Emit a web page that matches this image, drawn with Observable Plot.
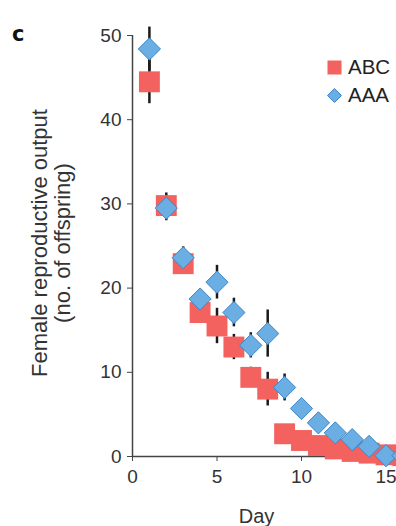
<!DOCTYPE html>
<html>
<head>
<meta charset="utf-8">
<script src="https://cdn.jsdelivr.net/npm/d3@7"></script>
<script src="https://cdn.jsdelivr.net/npm/@observablehq/plot@0.6"></script>
<style>
  html, body { margin: 0; padding: 0; background: #fff; }
  #wrap { position: relative; width: 396px; height: 526px; overflow: hidden; font-family: "Liberation Sans", Arial, Helvetica, sans-serif; }
  #chart { position: absolute; left: 0; top: 0; width: 500px; height: 526px; }
  #chart svg { max-width: none !important; width: 500px; height: 526px; }
  #panel { position: absolute; left: 12px; top: 22px; font-family: "DejaVu Sans", sans-serif; font-weight: bold; font-size: 21px; color: #111; }
  .leg { position: absolute; left: 326px; font-size: 20.5px; color: #222; display: flex; align-items: center; white-space: nowrap; }
  .leg svg { margin-right: 5px; }
</style>
</head>
<body>
<div id="wrap">
  <div id="chart"></div>
  <div id="panel">c</div>
  <div class="leg" style="top:55px;"><svg width="17" height="17"><rect x="1.5" y="1.5" width="14" height="14" fill="#f4625f"/></svg>ABC</div>
  <div class="leg" style="top:83px;"><svg width="17" height="17"><path d="M8.5 1.5 L15.5 8.5 L8.5 15.5 L1.5 8.5 Z" fill="#6aaee3" stroke="#3f86c4" stroke-width="1"/></svg>AAA</div>
</div>
<script>
const days    = [1, 2, 3, 4, 5, 6, 7, 8, 9, 10, 11, 12, 13, 14, 15, 16];
const abcMean = [44.5, 29.8, 22.9, 17.1, 15.5, 13.0, 9.4, 8.0, 2.7, 1.9, 1.3, 0.9, 0.6, 0.4, 0.2, 0.1];
const abcErr  = [2.6, 1.5, 1.0, 1.2, 2.1, 1.5, 1.2, 2.0, 0.6, 0.5, 0.4, 0.3, 0.3, 0.2, 0.1, 0.1];
const aaaMean = [48.4, 29.5, 23.6, 18.7, 20.7, 17.1, 13.2, 14.6, 8.2, 5.7, 4.0, 2.8, 2.0, 1.2, 0.1, 0.1];
const aaaErr  = [2.6, 1.5, 1.3, 1.0, 2.0, 1.7, 1.5, 2.8, 1.6, 0.8, 0.6, 0.5, 0.4, 0.3, 0.2, 0.1];
const xTicks  = [0, 5, 10, 15, 20];
const yTicks  = [0, 10, 20, 30, 40, 50];
const yLabel  = "Female reproductive output\n(no. of offspring)";
const xLabel  = "Day";

const abc = days.map((d, i) => ({day: d, v: abcMean[i], e: abcErr[i]}));
const aaa = days.map((d, i) => ({day: d, v: aaaMean[i], e: aaaErr[i]}));

const font = "Liberation Sans, Arial, Helvetica, sans-serif";
const plot = Plot.plot({
  width: 500,
  height: 526,
  marginLeft: 132,
  marginRight: 30,
  marginTop: 35,
  marginBottom: 70,
  style: {fontFamily: font, fontSize: "19px", color: "#333", background: "transparent", maxWidth: "none"},
  x: {domain: [0, 20], ticks: xTicks, label: null},
  y: {domain: [0, 50], ticks: yTicks, label: null},
  marks: [
    Plot.axisX({ticks: xTicks, tickSize: 5, tickPadding: 8, fontSize: 19, stroke: "#444", fill: "#333", label: null}),
    Plot.axisY({ticks: yTicks, tickSize: 5, tickPadding: 6, fontSize: 19, stroke: "#444", fill: "#333", label: null}),
    Plot.ruleY([0], {stroke: "#444", strokeWidth: 1.5}),
    Plot.ruleX([0], {stroke: "#444", strokeWidth: 1.5}),
    Plot.ruleX(abc, {x: "day", y1: d => d.v - d.e, y2: d => d.v + d.e, stroke: "#1a1a1a", strokeWidth: 2.5}),
    Plot.ruleX(aaa, {x: "day", y1: d => d.v - d.e, y2: d => d.v + d.e, stroke: "#1a1a1a", strokeWidth: 2.5}),
    Plot.dot(abc, {x: "day", y: "v", symbol: "square", r: 11.8, fill: "#f4625f", stroke: "none"}),
    Plot.dot(aaa, {x: "day", y: "v", symbol: "diamond2", r: 10, fill: "#6aaee3", stroke: "#3f86c4", strokeWidth: 1}),
    Plot.text([yLabel], {frameAnchor: "left", dx: -81, dy: -3, rotate: -90, fontSize: 22, lineHeight: 1.05, textAnchor: "middle", lineAnchor: "middle", fill: "#333"}),
    Plot.text([xLabel], {frameAnchor: "bottom", dx: -45, dy: 66, fontSize: 20, fill: "#333"})
  ]
});
document.getElementById("chart").appendChild(plot);
</script>
</body>
</html>
